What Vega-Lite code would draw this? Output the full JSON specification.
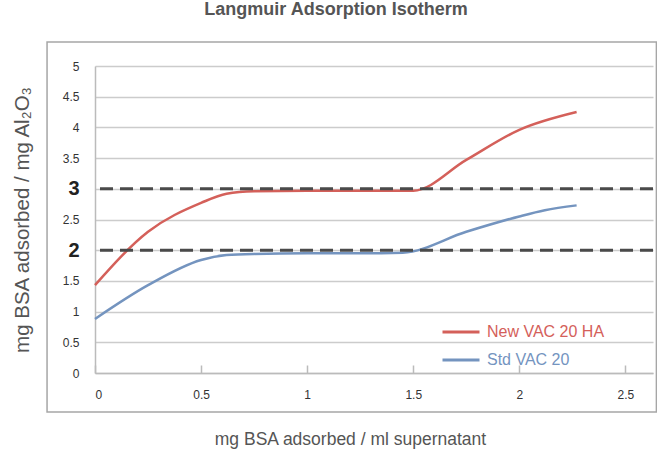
{
  "$schema": "https://vega.github.io/schema/vega-lite/v6.json",
  "width": 558,
  "height": 307,
  "autosize": {"type": "none"},
  "padding": {"left": 95, "top": 66, "right": 4, "bottom": 80},
  "background": "white",
  "title": {
    "text": "Langmuir Adsorption Isotherm",
    "font": "Liberation Sans",
    "fontSize": 18,
    "fontWeight": "bold",
    "color": "#555555",
    "anchor": "middle",
    "dx": -38,
    "offset": 22
  },
  "datasets": {
    "curves": [
      {"x": 0, "y": 1.43, "series": "New VAC 20 HA"},
      {"x": 0.25, "y": 2.3, "series": "New VAC 20 HA"},
      {"x": 0.5, "y": 2.77, "series": "New VAC 20 HA"},
      {"x": 0.62, "y": 2.92, "series": "New VAC 20 HA"},
      {"x": 0.75, "y": 2.96, "series": "New VAC 20 HA"},
      {"x": 1.0, "y": 2.97, "series": "New VAC 20 HA"},
      {"x": 1.25, "y": 2.97, "series": "New VAC 20 HA"},
      {"x": 1.5, "y": 2.97, "series": "New VAC 20 HA"},
      {"x": 1.75, "y": 3.47, "series": "New VAC 20 HA"},
      {"x": 2.0, "y": 3.96, "series": "New VAC 20 HA"},
      {"x": 2.27, "y": 4.25, "series": "New VAC 20 HA"},
      {"x": 0, "y": 0.88, "series": "Std VAC 20"},
      {"x": 0.25, "y": 1.43, "series": "Std VAC 20"},
      {"x": 0.5, "y": 1.84, "series": "Std VAC 20"},
      {"x": 0.62, "y": 1.92, "series": "Std VAC 20"},
      {"x": 0.75, "y": 1.94, "series": "Std VAC 20"},
      {"x": 1.0, "y": 1.95, "series": "Std VAC 20"},
      {"x": 1.25, "y": 1.95, "series": "Std VAC 20"},
      {"x": 1.45, "y": 1.96, "series": "Std VAC 20"},
      {"x": 1.75, "y": 2.3, "series": "Std VAC 20"},
      {"x": 2.0, "y": 2.55, "series": "Std VAC 20"},
      {"x": 2.12, "y": 2.65, "series": "Std VAC 20"},
      {"x": 2.27, "y": 2.73, "series": "Std VAC 20"}
    ],
    "refs": [{"y": 2}, {"y": 3}],
    "frame": [{"x1": -0.226, "x2": 2.646, "y1": -0.635, "y2": 5.39}]
  },
  "layer": [
    {
      "data": {"name": "curves"},
      "mark": {"type": "line", "interpolate": "monotone", "strokeWidth": 2.5},
      "encoding": {
        "x": {
          "field": "x",
          "type": "quantitative",
          "scale": {"domain": [0, 2.63], "nice": false},
          "axis": {
            "values": [0, 0.5, 1, 1.5, 2, 2.5],
            "format": "~g",
            "labelOverlap": false,
            "title": "mg BSA adsorbed / ml supernatant",
            "titleFont": "Liberation Sans",
            "titleFontSize": 17.5,
            "titleFontWeight": "normal",
            "titleColor": "#555555",
            "titleX": 255,
            "titlePadding": 30,
            "labelFont": "Liberation Sans",
            "labelFontSize": 12,
            "labelColor": "#333333",
            "labelPadding": 24,
            "ticks": true,
            "tickSize": -8,
            "tickWidth": 1.5,
            "tickColor": "#bbbbbb",
            "domainColor": "#bbbbbb",
            "domainWidth": 1.5,
            "grid": false
          }
        },
        "y": {
          "field": "y",
          "type": "quantitative",
          "scale": {"domain": [0, 5], "nice": false},
          "axis": {
            "values": [0, 0.5, 1, 1.5, 2, 2.5, 3, 3.5, 4, 4.5, 5],
            "format": "~g",
            "labelOverlap": false,
            "title": "mg BSA adsorbed / mg Al₂O₃",
            "titleFont": "Liberation Sans",
            "titleFontSize": 20.5,
            "titleFontWeight": "normal",
            "titleColor": "#555555",
            "titlePadding": 30,
            "labelFont": "Liberation Sans",
            "labelFontSize": {"condition": {"test": "datum.value === 2 || datum.value === 3", "value": 20}, "value": 12},
            "labelFontWeight": {"condition": {"test": "datum.value === 2 || datum.value === 3", "value": "bold"}, "value": "normal"},
            "labelColor": {"condition": {"test": "datum.value === 2 || datum.value === 3", "value": "#222222"}, "value": "#333333"},
            "labelPadding": 16,
            "ticks": false,
            "domainColor": "#bbbbbb",
            "domainWidth": 1.5,
            "grid": true,
            "gridColor": "#cccccc",
            "gridWidth": 1.5
          }
        },
        "color": {
          "field": "series",
          "type": "nominal",
          "scale": {"domain": ["New VAC 20 HA", "Std VAC 20"], "range": ["#d4605a", "#7494bf"]},
          "legend": {
            "title": null,
            "orient": "none",
            "legendX": 346,
            "legendY": 246,
            "symbolType": "stroke",
            "symbolSize": 1369,
            "symbolStrokeWidth": 3,
            "labelFont": "Liberation Sans",
            "labelFontSize": 16,
            "labelOffset": 6,
            "rowPadding": -2,
            "labelLimit": 300,
            "encode": {
              "labels": {
                "update": {
                  "fill": {"signal": "datum.label === 'Std VAC 20' ? '#7494bf' : '#d4605a'"}
                }
              }
            }
          }
        }
      }
    },
    {
      "data": {"name": "refs"},
      "mark": {"type": "rule", "stroke": "#4a4a4a", "strokeWidth": 3, "strokeDash": [13, 7]},
      "encoding": {
        "y": {
          "field": "y",
          "type": "quantitative",
          "scale": {"domain": [0, 5], "nice": false},
          "axis": {
            "values": [0, 0.5, 1, 1.5, 2, 2.5, 3, 3.5, 4, 4.5, 5],
            "format": "~g",
            "labelOverlap": false,
            "title": "mg BSA adsorbed / mg Al₂O₃",
            "titleFont": "Liberation Sans",
            "titleFontSize": 20.5,
            "titleFontWeight": "normal",
            "titleColor": "#555555",
            "titlePadding": 30,
            "labelFont": "Liberation Sans",
            "labelFontSize": {"condition": {"test": "datum.value === 2 || datum.value === 3", "value": 20}, "value": 12},
            "labelFontWeight": {"condition": {"test": "datum.value === 2 || datum.value === 3", "value": "bold"}, "value": "normal"},
            "labelColor": {"condition": {"test": "datum.value === 2 || datum.value === 3", "value": "#222222"}, "value": "#333333"},
            "labelPadding": 16,
            "ticks": false,
            "domainColor": "#bbbbbb",
            "domainWidth": 1.5,
            "grid": true,
            "gridColor": "#cccccc",
            "gridWidth": 1.5
          }
        }
      }
    },
    {
      "data": {"name": "frame"},
      "mark": {"type": "rect", "fill": null, "stroke": "#a6a6a6", "strokeWidth": 1.5, "clip": false},
      "encoding": {
        "x": {
          "field": "x1",
          "type": "quantitative",
          "scale": {"domain": [0, 2.63], "nice": false},
          "axis": {
            "values": [0, 0.5, 1, 1.5, 2, 2.5],
            "format": "~g",
            "labelOverlap": false,
            "title": "mg BSA adsorbed / ml supernatant",
            "titleFont": "Liberation Sans",
            "titleFontSize": 17.5,
            "titleFontWeight": "normal",
            "titleColor": "#555555",
            "titleX": 255,
            "titlePadding": 30,
            "labelFont": "Liberation Sans",
            "labelFontSize": 12,
            "labelColor": "#333333",
            "labelPadding": 24,
            "ticks": true,
            "tickSize": -8,
            "tickWidth": 1.5,
            "tickColor": "#bbbbbb",
            "domainColor": "#bbbbbb",
            "domainWidth": 1.5,
            "grid": false
          }
        },
        "x2": {"field": "x2"},
        "y": {
          "field": "y1",
          "type": "quantitative",
          "scale": {"domain": [0, 5], "nice": false},
          "axis": {
            "values": [0, 0.5, 1, 1.5, 2, 2.5, 3, 3.5, 4, 4.5, 5],
            "format": "~g",
            "labelOverlap": false,
            "title": "mg BSA adsorbed / mg Al₂O₃",
            "titleFont": "Liberation Sans",
            "titleFontSize": 20.5,
            "titleFontWeight": "normal",
            "titleColor": "#555555",
            "titlePadding": 30,
            "labelFont": "Liberation Sans",
            "labelFontSize": {"condition": {"test": "datum.value === 2 || datum.value === 3", "value": 20}, "value": 12},
            "labelFontWeight": {"condition": {"test": "datum.value === 2 || datum.value === 3", "value": "bold"}, "value": "normal"},
            "labelColor": {"condition": {"test": "datum.value === 2 || datum.value === 3", "value": "#222222"}, "value": "#333333"},
            "labelPadding": 16,
            "ticks": false,
            "domainColor": "#bbbbbb",
            "domainWidth": 1.5,
            "grid": true,
            "gridColor": "#cccccc",
            "gridWidth": 1.5
          }
        },
        "y2": {"field": "y2"}
      }
    }
  ],
  "config": {
    "view": {"stroke": null}
  }
}
